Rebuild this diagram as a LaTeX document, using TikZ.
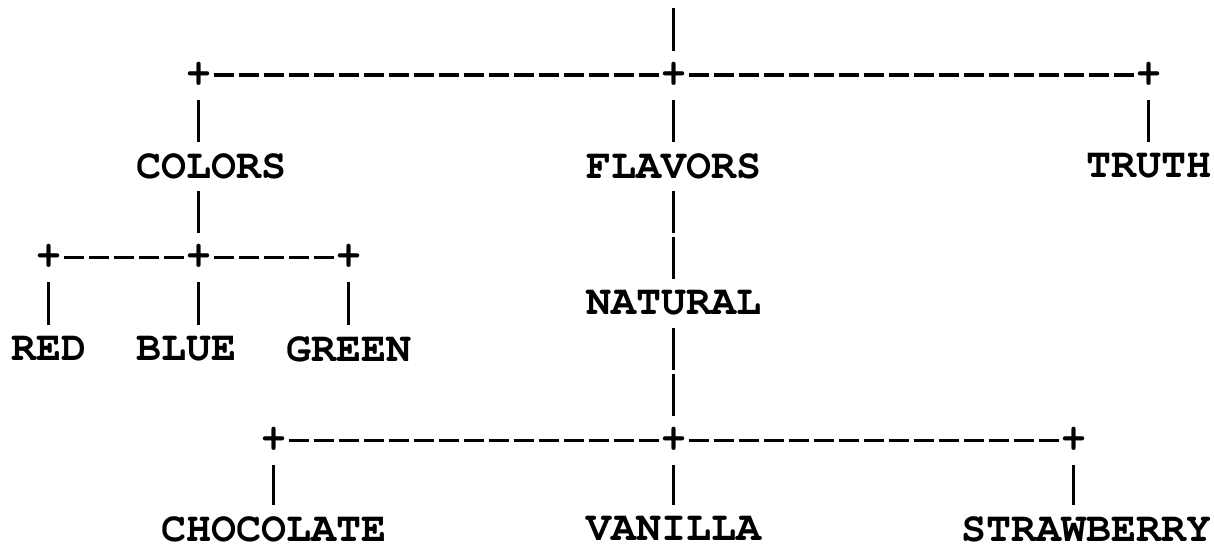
\documentclass[tikz,border=0pt]{standalone}
\usepackage[T1]{fontenc}
\usepackage{courier}
\usepackage{tikz}
\tikzset{
    word/.style={
        inner sep=0pt,
        font=\ttfamily\bfseries\fontsize{12.5}{12.5}\selectfont
    },
    junction/.style={word},
    hlink/.style={
        draw,
        line width=1pt,
        dash pattern=on 6pt off 1.5pt,
        shorten <=4.5pt, shorten >=4.5pt
    },
    vlink/.style={
        draw,
        line width=1pt,
        dash pattern=on 12.66pt off 1.04pt,
        shorten <=7.37pt, shorten >=7.37pt
    }
}

\begin{document}
\begin{tikzpicture}[x=7.5pt, y=-13.7pt]
    \useasboundingbox (-0.94,-0.644) rectangle (47.62,11.31);
    % Junctions
    \coordinate (top) at (26,-0.462);
    \node[junction] (jl) at (7,1) {+};
    \node[junction] (jc) at (26,1) {+};
    \node[junction] (jr) at (45,1) {+};
    \node[junction] (cl) at (1,5) {+};
    \node[junction] (cm) at (7,5) {+};
    \node[junction] (cr) at (13,5) {+};
    \node[junction] (nl) at (10,9) {+};
    \node[junction] (nc) at (26,9) {+};
    \node[junction] (nr) at (42,9) {+};

    % Words
    \node[word] (colors) at (7.5,3) {COLORS};
    \node[word] (flavors) at (26,3) {FLAVORS};
    \node[word] (truth) at (45,3) {TRUTH};
    \node[word] (natural) at (26,6) {NATURAL};
    \node[word] (red) at (1,7) {RED};
    \node[word] (blue) at (6.5,7) {BLUE};
    \node[word] (green) at (13,7) {GREEN};
    \node[word] (choc) at (10,10.95) {CHOCOLATE};
    \node[word] (vanilla) at (26,10.95) {VANILLA};
    \node[word] (straw) at (42.5,10.95) {STRAWBERRY};

    % Links
    \draw[vlink, shorten <=0pt] (top) -- (jc.center);
    \draw[hlink] (jl.center) -- (jc.center);
    \draw[hlink] (jc.center) -- (jr.center);
    \draw[vlink] (jl.center) -- (jl |- colors.center);
    \draw[vlink] (jc.center) -- (flavors.center);
    \draw[vlink] (jr.center) -- (truth.center);

    \draw[vlink] (cm |- colors.center) -- (cm.center);
    \draw[hlink] (cl.center) -- (cm.center);
    \draw[hlink] (cm.center) -- (cr.center);
    \draw[vlink] (cl.center) -- (red.center);
    \draw[vlink] (cm.center) -- (cm |- blue.center);
    \draw[vlink] (cr.center) -- (green.center);

    \draw[vlink] (flavors.center) -- (natural.center);
    \draw[vlink] (natural.center) -- (nc.center);
    \draw[hlink] (nl.center) -- (nc.center);
    \draw[hlink] (nc.center) -- (nr.center);
    \draw[vlink, shorten >=7.2pt] (nl.center) -- (choc.center);
    \draw[vlink, shorten >=7.2pt] (nc.center) -- (vanilla.center);
    \draw[vlink, shorten >=7.2pt] (nr.center) -- (nr |- straw.center);
\end{tikzpicture}
\end{document}
